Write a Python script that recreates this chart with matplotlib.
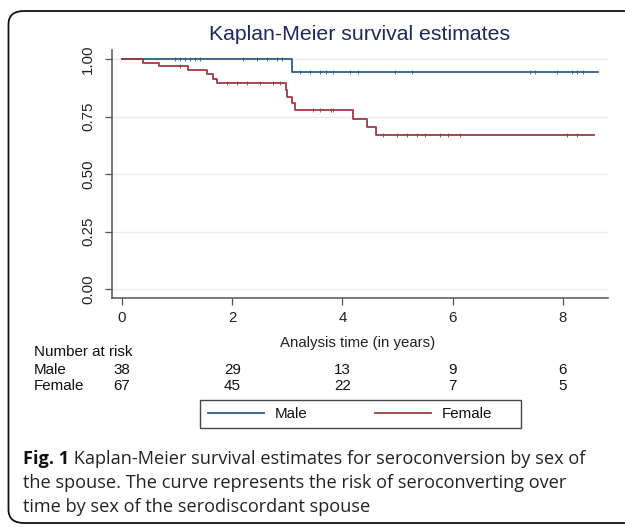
import matplotlib
matplotlib.use("Agg")
import matplotlib.pyplot as plt
from matplotlib.patches import FancyBboxPatch, Rectangle
from matplotlib.lines import Line2D
import matplotlib.transforms as mtransforms

# ---------------- data ----------------
male_times = [0.0, 3.08, 8.64]
male_surv = [1.0, 0.944, 0.944]
female_times = [0.0, 0.39, 0.68, 1.20, 1.55, 1.66, 1.72, 2.98, 3.00, 3.08, 3.14, 4.20, 4.44, 4.61, 8.57]
female_surv = [1.0, 0.985, 0.970, 0.952, 0.935, 0.913, 0.898, 0.866, 0.837, 0.809, 0.778, 0.741, 0.707, 0.672, 0.672]

male_censor = [0.96, 1.05, 1.14, 1.23, 1.32, 1.41, 2.20, 2.45, 2.63, 2.81, 2.90,
               3.23, 3.41, 3.59, 3.71, 3.83, 4.14, 4.29, 4.95, 5.26, 7.40, 7.50,
               7.89, 8.17, 8.26, 8.37]
female_censor = [1.05, 1.90, 2.08, 2.26, 2.50, 2.74, 2.86, 3.47, 3.59, 3.80, 3.83,
                 4.74, 4.99, 5.17, 5.35, 5.50, 5.77, 5.92, 6.13, 8.08, 8.26]

xticks = [0, 2, 4, 6, 8]
yticks = [0.0, 0.25, 0.5, 0.75, 1.0]
ytick_labels = ["0.00", "0.25", "0.50", "0.75", "1.00"]
groups = ["Male", "Female"]
at_risk_male = [38, 29, 13, 9, 6]
at_risk_female = [67, 45, 22, 7, 5]

title = "Kaplan-Meier survival estimates"
xlabel = "Analysis time (in years)"
risk_header = "Number at risk"
caption_bold = "Fig. 1"
caption_lines = [" Kaplan-Meier survival estimates for seroconversion by sex of",
                 "the spouse. The curve represents the risk of seroconverting over",
                 "time by sex of the serodiscordant spouse"]

male_color = "#2f5d8c"
female_color = "#9e3a44"

W, H = 625, 527
SANS = ['Liberation Sans', 'DejaVu Sans']
CAP = ['Open Sans', 'DejaVu Sans']
plt.rcParams['font.family'] = SANS
fig = plt.figure(figsize=(W / 100, H / 100), dpi=100)
fig.patch.set_facecolor("white")
renderer = fig.canvas.get_renderer()

def fx(px):
    return px / W

def fy(py):
    return 1 - py / H

def fit_size(s, family, target_px, weight="normal"):
    t = fig.text(0, 0, s, fontsize=10, family=family, fontweight=weight)
    w = t.get_window_extent(renderer).width
    t.remove()
    return 10 * target_px / w

# outer rounded frame
frame = FancyBboxPatch((fx(8.5), fy(523)), fx(660) - fx(8.5), fy(11) - fy(523),
                       boxstyle="round,pad=0,rounding_size=0.025",
                       transform=fig.transFigure, fill=False, edgecolor="#111111",
                       linewidth=1.3, clip_on=False)
fig.patches.append(frame)

ax = fig.add_axes([fx(111.7), fy(298), fx(608) - fx(111.7), fy(50) - fy(298)])
ax.set_xlim(-0.187, 8.82)
ax.set_ylim(-0.038, 1.040)

for y in yticks:
    ax.axhline(y, color="#e6ecef", linewidth=1.0, zorder=0)

ax.step(male_times, male_surv, where="post", color=male_color, linewidth=1.3, zorder=3)
ax.step(female_times, female_surv, where="post", color=female_color, linewidth=1.3, zorder=3)

def surv_at(times, surv, t):
    val = surv[0]
    for ti, si in zip(times, surv):
        if ti <= t:
            val = si
    return val

mc_y = [surv_at(male_times, male_surv, t) for t in male_censor]
fc_y = [surv_at(female_times, female_surv, t) for t in female_censor]
ax.plot(male_censor, mc_y, linestyle="none", marker="|", markersize=3.0,
        markeredgewidth=0.6, color=male_color, zorder=3)
ax.plot(female_censor, fc_y, linestyle="none", marker="|", markersize=3.0,
        markeredgewidth=0.6, color=female_color, zorder=3)

for s in ["top", "right"]:
    ax.spines[s].set_visible(False)
for s in ["left", "bottom"]:
    ax.spines[s].set_color("#555555")
    ax.spines[s].set_linewidth(1.1)

lab_fs = 10.8
ax.set_xticks(xticks)
ax.set_xticklabels([str(v) for v in xticks], fontsize=lab_fs)
ax.set_yticks(yticks)
ax.set_yticklabels(ytick_labels, fontsize=lab_fs, rotation=90, va="center")
ax.tick_params(axis="both", direction="out", length=5, width=0.9, color="#555555",
               labelcolor="#222222")
ax.tick_params(axis="x", pad=4)
ax.tick_params(axis="y", pad=7)

xl_fs = fit_size(xlabel, SANS, 156)
fig.text(fx(358), fy(343), xlabel, ha="center", va="center", fontsize=xl_fs, color="#222222")

title_fs = fit_size(title, SANS, 303)
fig.text(fx(359.5), fy(35), title, ha="center", va="center", fontsize=title_fs,
         color="#1e2b55")

# number at risk table
risk_fs = fit_size(risk_header, SANS, 99)
blend = mtransforms.blended_transform_factory(ax.transData, fig.transFigure)
fig.text(fx(34), fy(352), risk_header, ha="left", va="center", fontsize=risk_fs, color="#111111")
rows = [at_risk_male, at_risk_female]
row_y = [369.5, 386.5]
for name, vals, yy in zip(groups, rows, row_y):
    fig.text(fx(34), fy(yy), name, ha="left", va="center", fontsize=risk_fs, color="#111111")
    for t, v in zip(xticks, vals):
        ax.text(t, fy(yy), str(v), transform=blend, ha="center", va="center",
                fontsize=risk_fs, color="#111111", clip_on=False)

# legend
leg_top, leg_bot = 400, 428
box = Rectangle((fx(200), fy(leg_bot)), fx(521) - fx(200), fy(leg_top) - fy(leg_bot),
                transform=fig.transFigure, fill=False, edgecolor="#444444", linewidth=1.0)
fig.patches.append(box)
handles = [Line2D([], [], color=male_color, linewidth=1.3),
           Line2D([], [], color=female_color, linewidth=1.3)]
leg_fs = risk_fs
fs_px = leg_fs * 100 / 72
leg = fig.legend(handles, groups, loc="center left", ncol=2, frameon=False,
                 bbox_to_anchor=(fx(208), fy((leg_top + leg_bot) / 2)), borderpad=0,
                 borderaxespad=0, handlelength=56 / fs_px, handletextpad=11 / fs_px,
                 columnspacing=67 / fs_px, fontsize=leg_fs)
for t in leg.get_texts():
    t.set_color("#111111")

# caption
cap_fs = fit_size("the spouse", CAP, 93)
cap_x = 23
cap_y = [459, 483, 507]
t0 = fig.text(fx(cap_x), fy(cap_y[0]), caption_bold, ha="left", va="center",
              fontsize=cap_fs, fontweight="bold", family=CAP, color="#111111")
fig.add_artist(matplotlib.text.Annotation(caption_lines[0], xy=(1, 0.5), xycoords=t0,
                                          va="center", ha="left", fontsize=cap_fs,
                                          family=CAP, color="#222222",
                                          annotation_clip=False))
for line, yy in zip(caption_lines[1:], cap_y[1:]):
    fig.text(fx(cap_x), fy(yy), line, ha="left", va="center",
             fontsize=cap_fs, family=CAP, color="#222222")

fig.savefig("out.png", dpi=100)
